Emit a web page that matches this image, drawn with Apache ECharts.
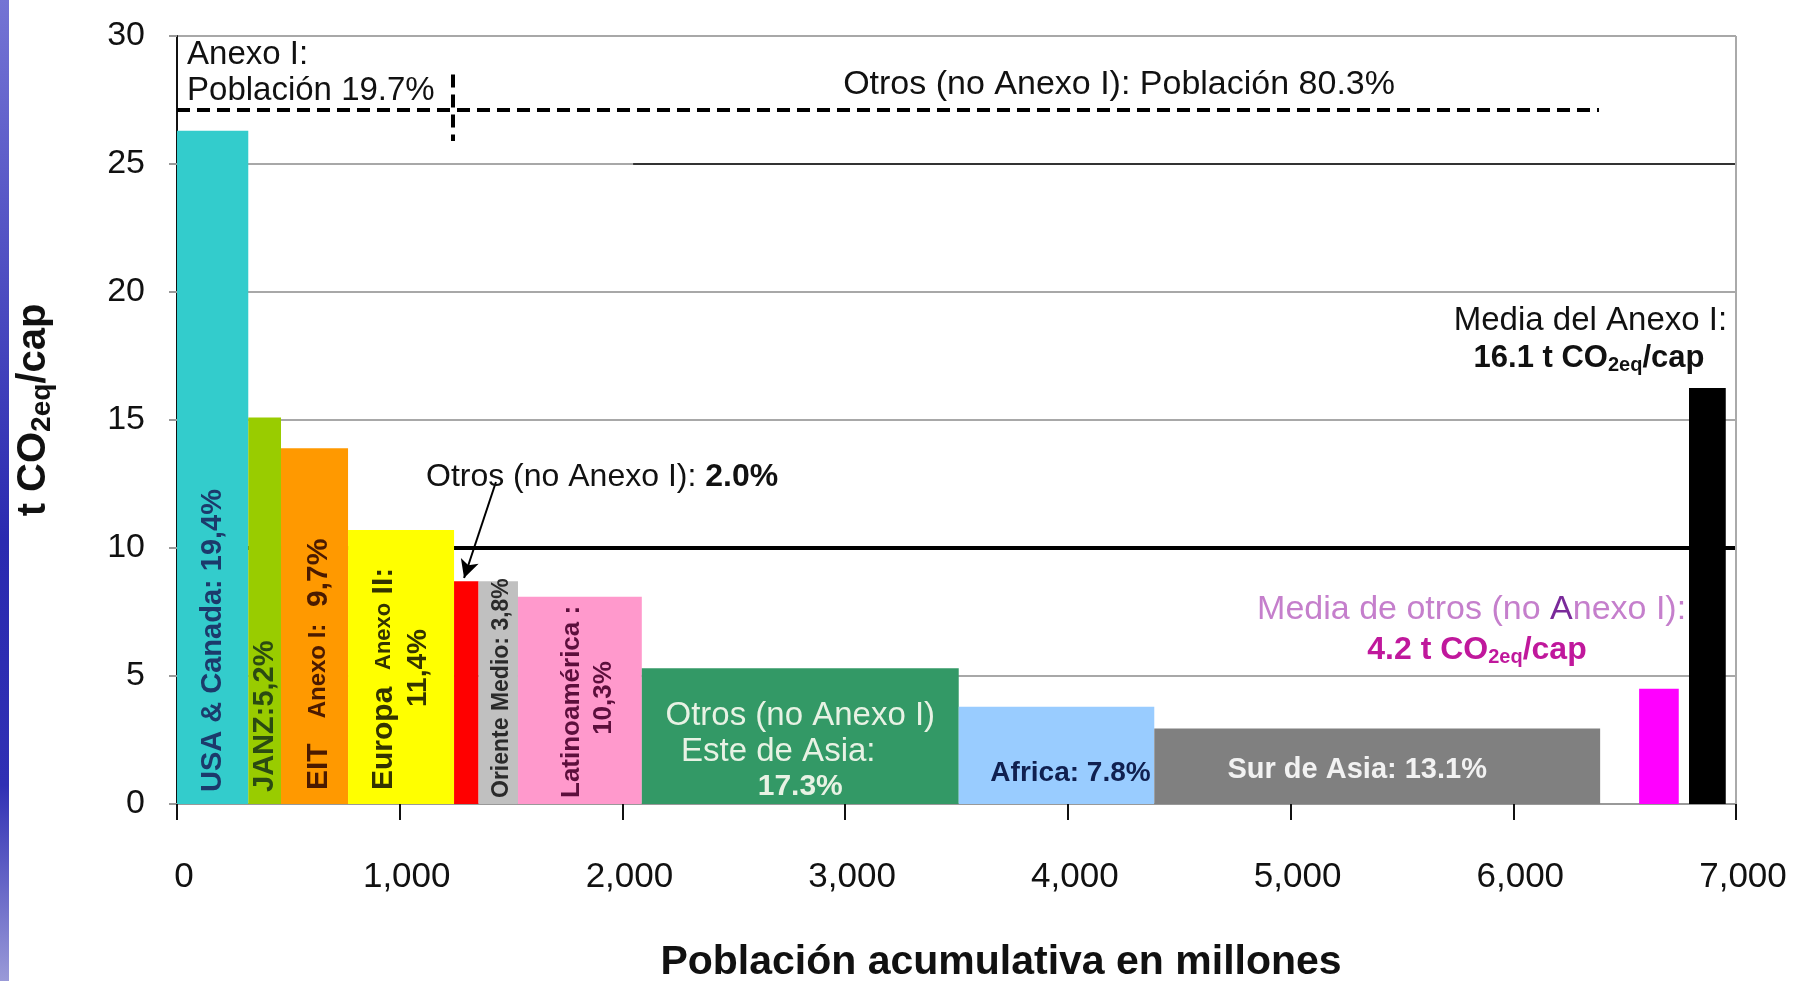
<!DOCTYPE html>
<html>
<head>
<meta charset="utf-8">
<title>Emisiones per cápita y población acumulativa</title>
<script src="https://cdn.jsdelivr.net/npm/echarts@6/dist/echarts.min.js"></script>
<style>
  html, body { margin: 0; padding: 0; background: #fff; }
  #chart { width: 1797px; height: 981px; }
</style>
</head>
<body>
<div id="chart"></div>
<script>
// datos: población acumulada (millones) y t CO2eq/cap
const regions = [
  'USA & Canada', 'JANZ', 'EIT Anexo I', 'Europa Anexo II',
  'Otros (no Anexo I)', 'Oriente Medio', 'Latinoamérica',
  'Otros (no Anexo I) Este de Asia', 'Africa', 'Sur de Asia',
  'Media de otros (no Anexo I)', 'Media del Anexo I'
];
const popStart = [0, 320, 467, 768, 1244, 1354, 1531, 2087, 3510, 4388, 6565, 6789];
const popEnd = [320, 467, 768, 1244, 1354, 1531, 2087, 3510, 4388, 6390, 6743, 6954];
const emissions = [26.3, 15.1, 13.9, 10.7, 8.7, 8.7, 8.1, 5.3, 3.8, 2.95, 4.5, 16.25];

const barColors = ['#33CCCC', '#99CC00', '#FF9900', '#FFFF00', '#FF0000', '#C0C0C0',
  '#FF99CC', '#339966', '#99CCFF', '#808080', '#FF00FF', '#000000'];

const FONT = 'Liberation Sans, Arial, sans-serif';

// textos dentro de las barras (offsets en px desde el centro/base de la barra)
const barText = {
  0: [{ text: 'USA & Canada: 19,4%', rot: true, dx: 0, dy: -12, align: 'left', color: '#1c3a6b', size: 29 }],
  1: [{ text: 'JANZ:5,2%', rot: true, dx: 0, dy: -12, align: 'left', color: '#2b4a12', size: 29 }],
  2: [{ text: '{b|EIT}   {s|Anexo I:}  {b|9,7%}', rot: true, dx: 4, dy: -14, align: 'left', color: '#4a1a00', size: 30, small: 24 }],
  3: [
    { text: '{b|Europa}  {s|Anexo} {b|II:}', rot: true, dx: -17, dy: -14, align: 'left', color: '#333300', size: 30, small: 22 },
    { text: '11,4%', rot: true, dx: 17, dy: -136, align: 'center', color: '#333300', size: 28 }
  ],
  5: [{ text: 'Oriente Medio: 3,8%', rot: true, dx: 3, dy: -6, align: 'left', color: '#2a2a2a', size: 23 }],
  6: [
    { text: 'Latinoamérica :', rot: true, dx: -8, dy: -6, align: 'left', color: '#5c0f3c', size: 26 },
    { text: '10,3%', rot: true, dx: 24, dy: -106, align: 'center', color: '#5c0f3c', size: 26 }
  ],
  7: [
    { text: 'Otros (no Anexo I)', dx: 0, dy: -88, align: 'center', color: '#e8f2e4', size: 33, weight: 'normal' },
    { text: 'Este de Asia:', dx: -22, dy: -52, align: 'center', color: '#e8f2e4', size: 33, weight: 'normal' },
    { text: '17.3%', dx: 0, dy: -17, align: 'center', color: '#e8f2e4', size: 30 }
  ],
  8: [{ text: 'Africa: 7.8%', dx: 14, dy: -31, align: 'center', color: '#102050', size: 28 }],
  9: [{ text: 'Sur de Asia: 13.1%', dx: -20, dy: -34, align: 'center', color: '#f2f2f2', size: 29 }]
};

function renderBar(params, api) {
  const i = params.dataIndex;
  const top = api.coord([api.value(0), api.value(2)]);
  const base = api.coord([api.value(1), 0]);
  const children = [{
    type: 'rect',
    shape: { x: top[0], y: top[1], width: base[0] - top[0], height: base[1] - top[1] },
    style: { fill: barColors[i] }
  }];
  const cx = (top[0] + base[0]) / 2;
  (barText[i] || []).forEach(function (t) {
    children.push({
      type: 'text',
      x: cx + t.dx,
      y: base[1] + t.dy,
      rotation: t.rot ? Math.PI / 2 : 0,
      style: {
        text: t.text,
        fill: t.color,
        fontFamily: FONT,
        fontSize: t.size,
        fontWeight: t.weight || 'bold',
        align: t.align,
        verticalAlign: 'middle',
        lineHeight: t.size + 4,
        rich: {
          b: { fontSize: t.size, fontWeight: 'bold', fill: t.color, fontFamily: FONT },
          s: { fontSize: t.small || t.size - 8, fontWeight: 'bold', fill: t.color, fontFamily: FONT }
        }
      }
    });
  });
  return { type: 'group', children: children };
}

const barData = regions.map(function (name, i) {
  return { name: name, value: [popStart[i], popEnd[i], emissions[i]] };
});

const chart = echarts.init(document.getElementById('chart'));

const option = {
  backgroundColor: '#ffffff',
  animation: false,
  grid: { left: 177, right: 61, top: 36, bottom: 177 },
  xAxis: {
    type: 'value',
    min: 0,
    max: 7000,
    interval: 1000,
    axisLine: { show: true, lineStyle: { color: '#999', width: 2 } },
    axisTick: { show: true, length: 16, lineStyle: { color: '#111', width: 2 } },
    splitLine: { show: false },
    axisLabel: {
      margin: 56,
      padding: [0, 0, 0, 14],
      fontFamily: FONT,
      fontSize: 35,
      color: '#111',
      formatter: function (v) { return v.toLocaleString('en-US'); }
    }
  },
  yAxis: {
    type: 'value',
    min: 0,
    max: 30,
    interval: 5,
    axisLine: { show: true, lineStyle: { color: '#111', width: 2 } },
    axisTick: { show: true, length: 8, lineStyle: { color: '#999', width: 2 } },
    splitLine: { show: true, lineStyle: { color: '#a8a8a8', width: 2 } },
    axisLabel: { margin: 32, fontFamily: FONT, fontSize: 34, color: '#111' }
  },
  series: [
    {
      // líneas de fondo: 10 t en negro, tramo oscuro en 25 y borde derecho
      type: 'line',
      data: [],
      z: 1,
      markLine: {
        silent: true,
        z: 1,
        symbol: 'none',
        label: { show: false },
        data: [
          [{ coord: [0, 10] }, { coord: [7000, 10], lineStyle: { color: '#000', width: 4, type: 'solid' } }],
          [{ coord: [2048, 25] }, { coord: [7000, 25], lineStyle: { color: '#333', width: 2, type: 'solid' } }],
          [{ coord: [7000, 0] }, { coord: [7000, 30], lineStyle: { color: '#aaa', width: 2, type: 'solid' } }]
        ]
      }
    },
    {
      type: 'custom',
      z: 3,
      renderItem: renderBar,
      encode: { x: [0, 1], y: 2 },
      data: barData
    },
    {
      // anotaciones: divisoria Anexo I / no Anexo I y flecha
      type: 'line',
      data: [],
      z: 5,
      markLine: {
        silent: true,
        z: 6,
        symbol: 'none',
        label: { show: false },
        data: [
          [{ coord: [0, 27.1] }, { coord: [6385, 27.1], lineStyle: { color: '#000', width: 4, type: [13, 7] } }],
          [{ coord: [1240, 28.5] }, { coord: [1240, 25.9], lineStyle: { color: '#000', width: 4, type: [13, 7] } }],
          [
            { coord: [1432, 12.58], symbol: 'none' },
            { coord: [1289, 8.83], symbol: 'arrow', symbolSize: [14, 18], lineStyle: { color: '#000', width: 2, type: 'solid' } }
          ]
        ]
      }
    }
  ]
};

chart.setOption(option);

// textos de anotación, anclados en coordenadas de datos
const subRich = function (size, color, weight) {
  return {
    n: { fontFamily: FONT, fontSize: size, fontWeight: weight, fill: color, lineHeight: size + 4 },
    s: { fontFamily: FONT, fontSize: Math.round(size * 0.64), fontWeight: weight, fill: color, verticalAlign: 'bottom', lineHeight: size - 2 },
    a: { fontFamily: FONT, fontSize: size, fontWeight: weight, fill: '#7a2a9a', lineHeight: size + 4 }
  };
};

const notes = [
  { at: [45, 29.25], text: 'Anexo I:', align: 'left', size: 33, color: '#111' },
  { at: [45, 27.85], text: 'Población 19.7%', align: 'left', size: 33, color: '#111' },
  { at: [4230, 28.09], text: 'Otros (no Anexo I): Población 80.3%', align: 'center', size: 34, color: '#111' },
  { at: [1118, 12.77], text: '{n|Otros (no Anexo I): }{b|2.0%}', align: 'left', size: 32, color: '#111' },
  { at: [6960, 18.87], text: 'Media del Anexo I:', align: 'right', size: 33, color: '#111' },
  { at: [6340, 17.42], text: '{n|16.1 t CO}{s|2eq}{n|/cap}', align: 'center', size: 31, color: '#111', weight: 'bold' },
  { at: [6776, 7.58], text: '{n|Media de otros (no }{a|A}{n|nexo I):}', align: 'right', size: 34, color: '#c57fcc' },
  { at: [5837, 6.02], text: '{n|4.2 t CO}{s|2eq}{n|/cap}', align: 'center', size: 32, color: '#c0189c', weight: 'bold' }
];

const graphics = notes.map(function (n) {
  const p = chart.convertToPixel({ gridIndex: 0 }, n.at);
  const rich = subRich(n.size, n.color, n.weight || 'normal');
  rich.b = { fontFamily: FONT, fontSize: n.size, fontWeight: 'bold', fill: n.color };
  return {
    type: 'text',
    x: p[0],
    y: p[1],
    z: 10,
    style: {
      text: n.text,
      fill: n.color,
      fontFamily: FONT,
      fontSize: n.size,
      fontWeight: n.weight || 'normal',
      align: n.align,
      verticalAlign: 'middle',
      rich: rich
    }
  };
});

// franja azul del borde izquierdo
graphics.push({
  type: 'rect',
  left: 0,
  top: 0,
  z: 0,
  shape: { width: 9, height: 981 },
  style: {
    fill: new echarts.graphic.LinearGradient(0, 0, 0, 1, [
      { offset: 0, color: '#7474d4' },
      { offset: 0.55, color: '#2a2ab0' },
      { offset: 0.8, color: '#3030b4' },
      { offset: 1, color: '#9a9ad8' }
    ])
  }
});

// títulos de los ejes
graphics.push({
  type: 'text',
  x: 34,
  y: 410,
  rotation: Math.PI / 2,
  style: {
    text: '{n|t CO}{s|2eq}{n|/cap}',
    align: 'center',
    verticalAlign: 'middle',
    rich: {
      n: { fontFamily: FONT, fontSize: 40, fontWeight: 'bold', fill: '#111', lineHeight: 44 },
      s: { fontFamily: FONT, fontSize: 28, fontWeight: 'bold', fill: '#111', verticalAlign: 'bottom', lineHeight: 38 }
    }
  }
});
graphics.push({
  type: 'text',
  x: 1001,
  y: 963,
  style: {
    text: 'Población acumulativa en millones',
    fill: '#111',
    fontFamily: FONT,
    fontSize: 41,
    fontWeight: 'bold',
    align: 'center',
    verticalAlign: 'middle'
  }
});

chart.setOption({ graphic: graphics });
</script>
</body>
</html>
